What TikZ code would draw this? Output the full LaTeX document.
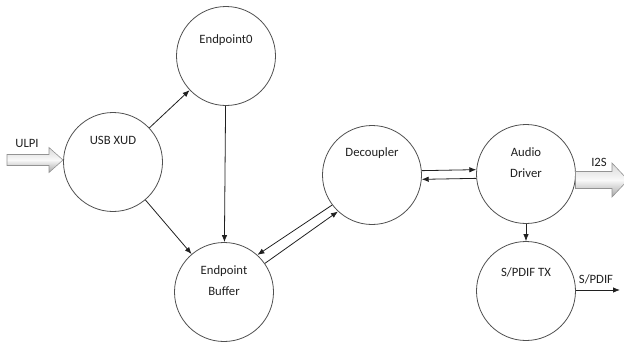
\documentclass[tikz,border=0pt]{standalone}
\usepackage{fontspec}
\setmainfont{Carlito}
\usetikzlibrary{arrows.meta}
\definecolor{ring}{HTML}{505050}
\definecolor{ink}{HTML}{202020}

\tikzset{
  blob/.style={draw=ring, circle, minimum size=99pt, inner sep=0pt, line width=0.8pt},
  txt/.style={text=ink, font=\fontsize{12.7}{21}\selectfont, align=center, inner sep=0pt},
  flow/.style={draw=ink, line width=0.8pt, -{Latex[length=7pt,width=5.5pt]}},
  fat/.style={draw=gray!85, line width=0.6pt, line join=miter,
    top color=gray!30, bottom color=gray!70, middle color=gray!5}
}

\begin{document}
\begin{tikzpicture}[x=1pt,y=-1pt]
\useasboundingbox (0,0) rectangle (624,343);

% processes
\node[blob] (usb) at (113,162) {};
\node[blob] (ep0) at (226,56) {};
\node[blob] (buf) at (224,292) {};
\node[blob] (dec) at (372,175) {};
\node[blob] (aud) at (526,174) {};
\node[blob] (spd) at (526,291) {};

\node[txt] (usbt) at (113,140) {USB XUD};
\node[txt] (ep0t) at (226,40) {Endpoint0};
\node[txt] (buft) at (224,281) {Endpoint\\Buffer};
\node[txt] (dect) at (372,153) {Decoupler};
\node[txt] (audt) at (526,163) {Audio\\Driver};
\node[txt] (spdt) at (526,272) {S/PDIF TX};

% external interfaces
\coordinate (ulpiin) at (7,160);
\shadedraw[fat] (ulpiin) ++(0,-5.5) -- ++(42,0) -- ++(0,-7) -- ++(14,12.5)
  -- ++(-14,12.5) -- ++(0,-7) -- ++(-42,0) -- cycle;
\node[txt] (ulpit) at (27,143) {ULPI};

\coordinate (i2sout) at (575.5,180);
\shadedraw[fat] (i2sout) ++(0,-8.5) -- ++(36.5,0) -- ++(0,-8.5) -- ++(16,17)
  -- ++(-16,17) -- ++(0,-8.5) -- ++(-36.5,0) -- cycle;
\node[txt] (i2st) at (599,162) {I2S};

\coordinate (spdout) at (620,290);
\node[txt] (spdo) at (596,279) {S/PDIF};

% data flow
\draw[flow] (usb) -- (ep0);
\draw[flow] (usb) -- (buf);
\draw[flow] (ep0) -- (buf);
\draw[flow] (dec.217) -- (buf.48);
\draw[flow] (buf.35) -- (dec.227);
\draw[flow] (dec.5) -- (aud.175);
\draw[flow] (aud.185) -- (dec.-5);
\draw[flow] (aud) -- (spd);
\draw[flow] (spd.east |- spdout) -- (spdout);
\end{tikzpicture}
\end{document}
